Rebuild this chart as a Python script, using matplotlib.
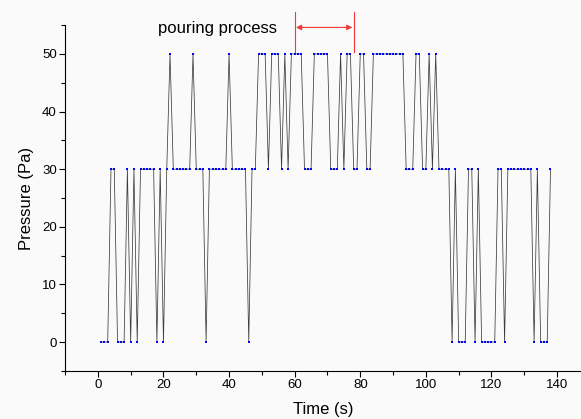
import matplotlib
matplotlib.use('Agg')
import matplotlib.pyplot as plt
from matplotlib.ticker import MultipleLocator

plt.rcParams['font.family'] = ['Liberation Sans', 'DejaVu Sans']

# tempo (s), uma amostra por segundo
tempo = [
    1, 2, 3, 4, 5, 6, 7, 8, 9, 10,
    11, 12, 13, 14, 15, 16, 17, 18, 19, 20,
    21, 22, 23, 24, 25, 26, 27, 28, 29, 30,
    31, 32, 33, 34, 35, 36, 37, 38, 39, 40,
    41, 42, 43, 44, 45, 46, 47, 48, 49, 50,
    51, 52, 53, 54, 55, 56, 57, 58, 59, 60,
    61, 62, 63, 64, 65, 66, 67, 68, 69, 70,
    71, 72, 73, 74, 75, 76, 77, 78, 79, 80,
    81, 82, 83, 84, 85, 86, 87, 88, 89, 90,
    91, 92, 93, 94, 95, 96, 97, 98, 99, 100,
    101, 102, 103, 104, 105, 106, 107, 108, 109, 110,
    111, 112, 113, 114, 115, 116, 117, 118, 119, 120,
    121, 122, 123, 124, 125, 126, 127, 128, 129, 130,
    131, 132, 133, 134, 135, 136, 137, 138,
]
# pressao (Pa)
pressao = [
    0, 0, 0, 30, 30, 0, 0, 0, 30, 0,
    30, 0, 30, 30, 30, 30, 30, 0, 30, 0,
    30, 50, 30, 30, 30, 30, 30, 30, 50, 30,
    30, 30, 0, 30, 30, 30, 30, 30, 30, 50,
    30, 30, 30, 30, 30, 0, 30, 30, 50, 50,
    50, 30, 50, 50, 50, 30, 50, 30, 50, 50,
    50, 50, 30, 30, 30, 50, 50, 50, 50, 50,
    30, 30, 30, 50, 30, 50, 50, 30, 30, 50,
    50, 30, 30, 50, 50, 50, 50, 50, 50, 50,
    50, 50, 50, 30, 30, 30, 50, 50, 30, 30,
    50, 30, 50, 30, 30, 30, 30, 0, 30, 0,
    0, 0, 30, 30, 0, 30, 0, 0, 0, 0,
    0, 30, 30, 0, 30, 30, 30, 30, 30, 30,
    30, 30, 0, 30, 0, 0, 0, 30,
]

# intervalo de vazamento
inicio_vaz = 60
fim_vaz = 78

fig = plt.figure(figsize=(5.81, 4.19), dpi=100, facecolor='#fafafa')
ax = fig.add_axes([0.112, 0.115, 0.888, 0.825])
ax.set_facecolor('#fafafa')

ax.plot(tempo, pressao, color='#3c3c3c', linewidth=0.55,
        marker='s', markersize=2, markerfacecolor='#0000ff',
        markeredgecolor='#0000ff', markeredgewidth=0)

ax.set_xlim(-10, 147.3)
ax.set_ylim(-5, 55)
ax.xaxis.set_major_locator(MultipleLocator(20))
ax.xaxis.set_minor_locator(MultipleLocator(10))
ax.yaxis.set_major_locator(MultipleLocator(10))
ax.yaxis.set_minor_locator(MultipleLocator(5))
ax.tick_params(which='major', direction='out', length=4, width=0.8,
               labelsize=9.5, pad=2)
ax.tick_params(which='minor', direction='out', length=3, width=0.8)
ax.spines['top'].set_visible(False)
ax.spines['right'].set_visible(False)

ax.set_xlabel('Time (s)', fontsize=12, labelpad=8)
ax.set_ylabel('Pressure (Pa)', fontsize=12, labelpad=6)

# anotacao do processo de vazamento
for xv in (inicio_vaz, fim_vaz):
    ax.plot([xv, xv], [50.3, 57.3], color='#f03a3a', linewidth=0.8, clip_on=False)
ax.annotate('', xy=(inicio_vaz + 0.4, 54.6), xytext=(fim_vaz - 0.4, 54.6),
            arrowprops=dict(arrowstyle='<|-|>', color='#f03a3a', lw=0.8,
                            mutation_scale=8, shrinkA=0, shrinkB=0),
            annotation_clip=False)
ax.text(18.4, 54.4, 'pouring process', fontsize=12, ha='left', va='center')

fig.savefig('out.png', dpi=100, facecolor=fig.get_facecolor())
